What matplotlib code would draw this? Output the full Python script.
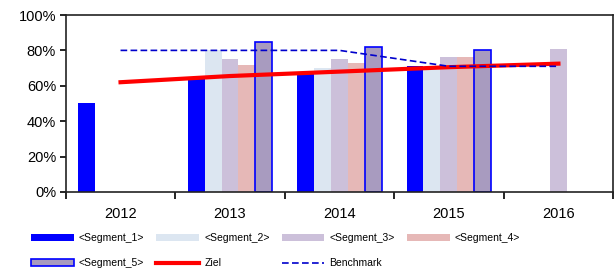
import numpy as np
from matplotlib import pyplot as plt
from matplotlib.patches import Patch
from matplotlib.lines import Line2D

plt.rcParams['font.family'] = ['Liberation Sans', 'DejaVu Sans']

years = ["2012", "2013", "2014", "2015", "2016"]
segment_1 = [50, 64, 67, 71, np.nan]
segment_2 = [np.nan, 80, 70, 70, np.nan]
segment_3 = [np.nan, 75, 75, 76, 81]
segment_4 = [np.nan, 72, 73, 76, np.nan]
segment_5 = [np.nan, 85, 82, 80, np.nan]
ziel = [62, 65.5, 68, 70.5, 72.5]
benchmark = [80, 80, 80, 71, 71]

seg_names = ["<Segment_1>", "<Segment_2>", "<Segment_3>", "<Segment_4>", "<Segment_5>"]
seg_colors = ["#0000FF", "#DCE6F1", "#CCC0DA", "#E6B8B7", "#A89BBF"]

fig = plt.figure(figsize=(6.15, 2.68), dpi=100)
ax = fig.add_axes([0.107, 0.284, 0.89, 0.66])

x = np.arange(len(years))
w = 0.155
segs = [segment_1, segment_2, segment_3, segment_4, segment_5]
for i, vals in enumerate(segs):
    pos = x + (i - 2) * w
    if i == 4:
        ax.bar(pos, vals, w, color=seg_colors[i], edgecolor="#0000FF", linewidth=1.2, zorder=2)
    else:
        ax.bar(pos, vals, w, color=seg_colors[i], zorder=2)

ax.plot(x, ziel, color="#FF0000", linewidth=3, zorder=3)
ax.plot(x, benchmark, color="#0000CC", linewidth=1.2, linestyle=(0, (4, 2)), zorder=4)

ax.set_xlim(-0.5, 4.5)
ax.set_ylim(0, 100)
ax.set_yticks(range(0, 101, 20))
ax.set_yticklabels([f"{v}%" for v in range(0, 101, 20)], fontsize=10.5)
ax.set_xticks(x)
ax.set_xticklabels(years, fontsize=10.5)
ax.tick_params(axis="x", length=0, pad=11)
ax.set_xticks(np.arange(-0.5, 4.6, 1), minor=True)
ax.tick_params(axis="x", which="minor", length=5, width=1.2, direction="out")
ax.tick_params(axis="y", length=4, width=1.2, direction="out", pad=3)
for s in ax.spines.values():
    s.set_linewidth(1.2)
    s.set_color("#222222")

handles = [
    Patch(facecolor=seg_colors[0], label=seg_names[0]),
    Patch(facecolor=seg_colors[4], edgecolor="#0000FF", linewidth=1.2, label=seg_names[4]),
    Patch(facecolor=seg_colors[1], label=seg_names[1]),
    Line2D([], [], color="#FF0000", linewidth=3, label="Ziel"),
    Patch(facecolor=seg_colors[2], label=seg_names[2]),
    Line2D([], [], color="#0000CC", linewidth=1.2, linestyle=(0, (4, 2)), label="Benchmark"),
    Patch(facecolor=seg_colors[3], label=seg_names[3]),
]
fig.legend(handles=handles, ncol=4, loc="lower left", bbox_to_anchor=(0.035, -0.035),
           frameon=False, fontsize=7.5, handlelength=4.1, handleheight=0.6,
           columnspacing=1.15, handletextpad=0.5, labelspacing=1.45)

plt.savefig("out.png", dpi=100)
